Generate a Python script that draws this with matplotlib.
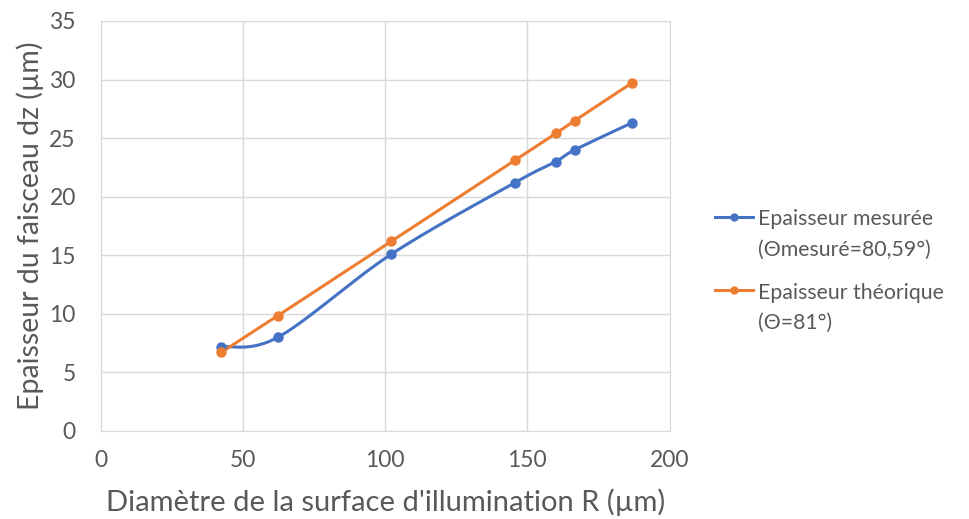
import numpy as np
import matplotlib.pyplot as plt
from matplotlib.legend_handler import HandlerLine2D

plt.rcParams['font.family'] = ['Lato', 'DejaVu Sans']

# diamètre de la surface d'illumination (µm)
R = [42.3, 62.3, 102.2, 145.6, 160.0, 166.7, 186.7]
dz_mesure = [7.2, 8.0, 15.1, 21.2, 23.0, 24.0, 26.3]
dz_theorique = [6.7, 9.85, 16.2, 23.1, 25.4, 26.5, 29.7]

bleu = '#4472C4'
orange = '#ED7D31'
gris = '#595959'


def lisse(x, y, n=30):
    # courbe lissée façon tableur (Catmull-Rom)
    x = np.asarray(x, float)
    y = np.asarray(y, float)
    px = np.concatenate([[x[0]], x, [x[-1]]])
    py = np.concatenate([[y[0]], y, [y[-1]]])
    xs, ys = [], []
    t = np.linspace(0, 1, n)
    for i in range(1, len(px) - 2):
        for p, out in ((px, xs), (py, ys)):
            p0, p1, p2, p3 = p[i - 1], p[i], p[i + 1], p[i + 2]
            c1 = p1 + (p2 - p0) / 6
            c2 = p2 - (p3 - p1) / 6
            out.extend((1 - t) ** 3 * p1 + 3 * (1 - t) ** 2 * t * c1
                       + 3 * (1 - t) * t ** 2 * c2 + t ** 3 * p2)
    return xs, ys


class HandlerHaut(HandlerLine2D):
    # symbole de légende aligné sur la première ligne du texte
    def create_artists(self, legend, orig_handle, xdescent, ydescent,
                       width, height, fontsize, trans):
        return super().create_artists(legend, orig_handle, xdescent,
                                      ydescent - 26, width, height,
                                      fontsize, trans)


fig = plt.figure(figsize=(9.69, 5.19), dpi=100)
ax = fig.add_axes([0.104, 0.1696, 0.587, 0.79])

for y, c, lab in ((dz_mesure, bleu, 'Epaisseur mesurée\n(Θmesuré=80,59°)'),
                  (dz_theorique, orange, 'Epaisseur théorique\n(Θ=81°)')):
    xs, ys = lisse(R, y)
    ax.plot(xs, ys, color=c, lw=2.2, zorder=3)
    ax.plot(R, y, 'o', color=c, ms=6.5, zorder=4)
    ax.plot([], [], '-o', color=c, lw=2.2, ms=5, label=lab)

ax.set_xlim(0, 200)
ax.set_ylim(0, 35)
ax.set_xticks(np.arange(0, 201, 50))
ax.set_yticks(np.arange(0, 36, 5))
ax.grid(True, color='#D9D9D9', lw=1)
ax.set_axisbelow(True)
for s in ax.spines.values():
    s.set_color('#D9D9D9')
ax.tick_params(length=0, labelsize=16.5, labelcolor=gris)
ax.tick_params(axis='x', pad=14)
ax.tick_params(axis='y', pad=18)

ax.set_xlabel("Diamètre de la surface d'illumination R (µm)", fontsize=21,
              color=gris, labelpad=12)
ax.set_ylabel('Epaisseur du faisceau dz (µm)', fontsize=20.5, color=gris,
              labelpad=4)

leg = ax.legend(loc='center left', bbox_to_anchor=(1.046, 0.39), frameon=False,
                fontsize=15.3, labelcolor=gris, handlelength=1.8,
                handletextpad=0.25, labelspacing=1.1,
                handler_map={plt.Line2D: HandlerHaut()})
for txt in leg.get_texts():
    txt.set_linespacing(1.65)

fig.savefig('out.png', dpi=100)
